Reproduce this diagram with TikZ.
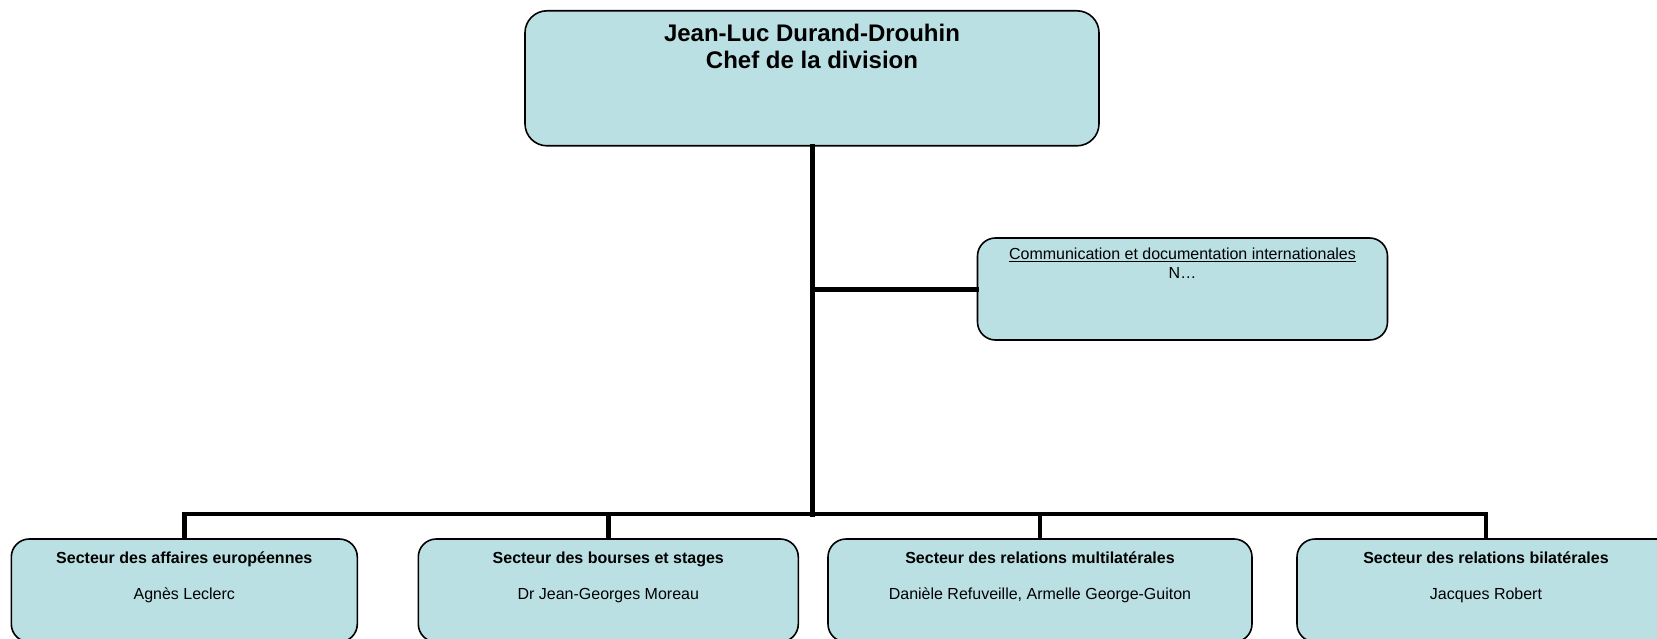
\documentclass[tikz,border=0pt]{standalone}
\usepackage{fontspec}
\setmainfont{Liberation Sans}
\definecolor{boxblue}{RGB}{187,224,227}
\begin{document}
\begin{tikzpicture}[x=1pt,y=-1pt,
  box/.style={draw,line width=1.6pt,fill=boxblue,rectangle,rounded corners=18pt,inner sep=0pt},
  link/.style={line width=5pt,line cap=rect},
  drop/.style={line width=4.5pt,line cap=rect},
  chieftext/.style={anchor=base,font=\bfseries\fontsize{24}{27}\selectfont},
  headtext/.style={anchor=base,font=\bfseries\fontsize{16}{18}\selectfont},
  persontext/.style={anchor=base,font=\fontsize{16}{18}\selectfont}]
\clip (0,0) rectangle (1657,639);
\node[box,minimum width=574pt,minimum height=135pt,rounded corners=22pt] (chef) at (812,78.3) {};
\node[chieftext] (chefname) at (812,41.4) {Jean-Luc Durand-Drouhin};
\node[chieftext] (cheftitle) at (812,68.8) {Chef de la division};
\node[box,minimum width=410pt,minimum height=102pt] (comm) at (1182.5,289) {};
\node[persontext] (commhead) at (1182.5,259.4) {\underline{Communication et documentation internationales}};
\node[persontext] (commname) at (1182.5,278.4) {N\dots};
\node[box,minimum width=346pt,minimum height=103pt] (europe) at (184.3,590.5) {};
\node[box,minimum width=380pt,minimum height=103pt] (bourses) at (608.3,590.5) {};
\node[box,minimum width=424pt,minimum height=103pt] (multi) at (1040,590.5) {};
\node[box,minimum width=378pt,minimum height=103pt] (bilat) at (1486,590.5) {};
\node[headtext] (europehead) at (europe |- 0,563) {Secteur des affaires européennes};
\node[persontext] (europename) at (europe |- 0,599) {Agnès Leclerc};
\node[headtext] (bourseshead) at (bourses |- 0,563) {Secteur des bourses et stages};
\node[persontext] (boursesname) at (bourses |- 0,599) {Dr Jean-Georges Moreau};
\node[headtext] (multihead) at (multi |- 0,563) {Secteur des relations multilatérales};
\node[persontext] (multiname) at (multi |- 0,599) {Danièle Refuveille, Armelle George-Guiton};
\node[headtext] (bilathead) at (bilat |- 0,563) {Secteur des relations bilatérales};
\node[persontext] (bilatname) at (bilat |- 0,599) {Jacques Robert};
\coordinate (bus) at (812,514);
\draw[link] (chef.south) -- (bus);
\draw[link] (chef.south |- comm.west) -- (comm.west);
\draw[drop] (europe.north |- bus) -- (bilat.north |- bus);
\foreach \n in {europe,bourses,multi,bilat}
  \draw[drop] (\n.north) -- (\n.north |- bus);
\end{tikzpicture}
\end{document}
